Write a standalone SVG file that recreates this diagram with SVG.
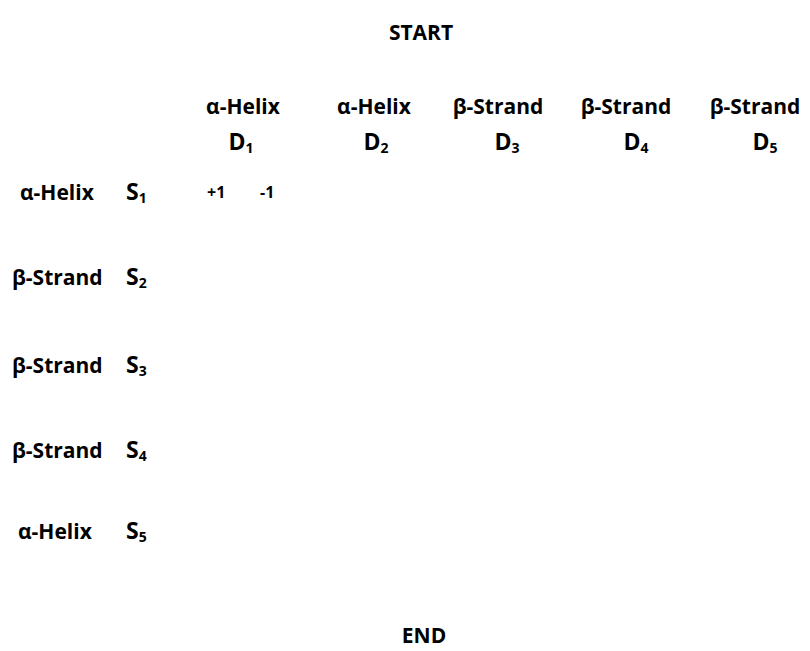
<svg xmlns="http://www.w3.org/2000/svg" width="810" height="651" viewBox="0 0 810 651">
  <style>
    text { font-family: "Open Sans", "Liberation Sans", sans-serif; font-weight: bold; fill: #000; }
    .lbl { font-size: 21px; }
    .sym { font-size: 23px; }
    .sub { font-size: 14px; }
    .val { font-size: 16px; }
    .mid { text-anchor: middle; }
  </style>
  <rect width="810" height="651" fill="#fff"/>

  <g id="start"><text class="lbl mid" x="421" y="40">START</text></g>

  <!-- column headers: element type and D index -->
  <g id="col-d1">
    <text class="lbl mid" x="243" y="114">α-Helix</text>
    <text class="sym mid" x="241" y="150">D<tspan class="sub" dy="3">1</tspan></text>
  </g>
  <g id="col-d2">
    <text class="lbl mid" x="374" y="114">α-Helix</text>
    <text class="sym mid" x="376" y="150">D<tspan class="sub" dy="3">2</tspan></text>
  </g>
  <g id="col-d3">
    <text class="lbl mid" x="498" y="114">β-Strand</text>
    <text class="sym mid" x="507" y="150">D<tspan class="sub" dy="3">3</tspan></text>
  </g>
  <g id="col-d4">
    <text class="lbl mid" x="626" y="114">β-Strand</text>
    <text class="sym mid" x="636" y="150">D<tspan class="sub" dy="3">4</tspan></text>
  </g>
  <g id="col-d5">
    <text class="lbl mid" x="755" y="114">β-Strand</text>
    <text class="sym mid" x="765" y="150">D<tspan class="sub" dy="3">5</tspan></text>
  </g>

  <!-- row headers: element type and S index -->
  <g id="row-s1">
    <text class="lbl" x="20" y="200">α-Helix</text>
    <text class="sym" x="126" y="200">S<tspan class="sub" dy="3">1</tspan></text>
  </g>
  <g id="row-s2">
    <text class="lbl" x="12" y="285">β-Strand</text>
    <text class="sym" x="126" y="285">S<tspan class="sub" dy="3">2</tspan></text>
  </g>
  <g id="row-s3">
    <text class="lbl" x="12" y="373">β-Strand</text>
    <text class="sym" x="126" y="373">S<tspan class="sub" dy="3">3</tspan></text>
  </g>
  <g id="row-s4">
    <text class="lbl" x="12" y="458">β-Strand</text>
    <text class="sym" x="126" y="458">S<tspan class="sub" dy="3">4</tspan></text>
  </g>
  <g id="row-s5">
    <text class="lbl" x="18" y="539">α-Helix</text>
    <text class="sym" x="126" y="539">S<tspan class="sub" dy="3">5</tspan></text>
  </g>

  <!-- cell S1/D1 orientation values -->
  <g id="cell-s1-d1">
    <text class="val" x="207" y="198">+1</text>
    <text class="val" x="260" y="198">-1</text>
  </g>

  <g id="end"><text class="lbl mid" x="424" y="643">END</text></g>
</svg>
